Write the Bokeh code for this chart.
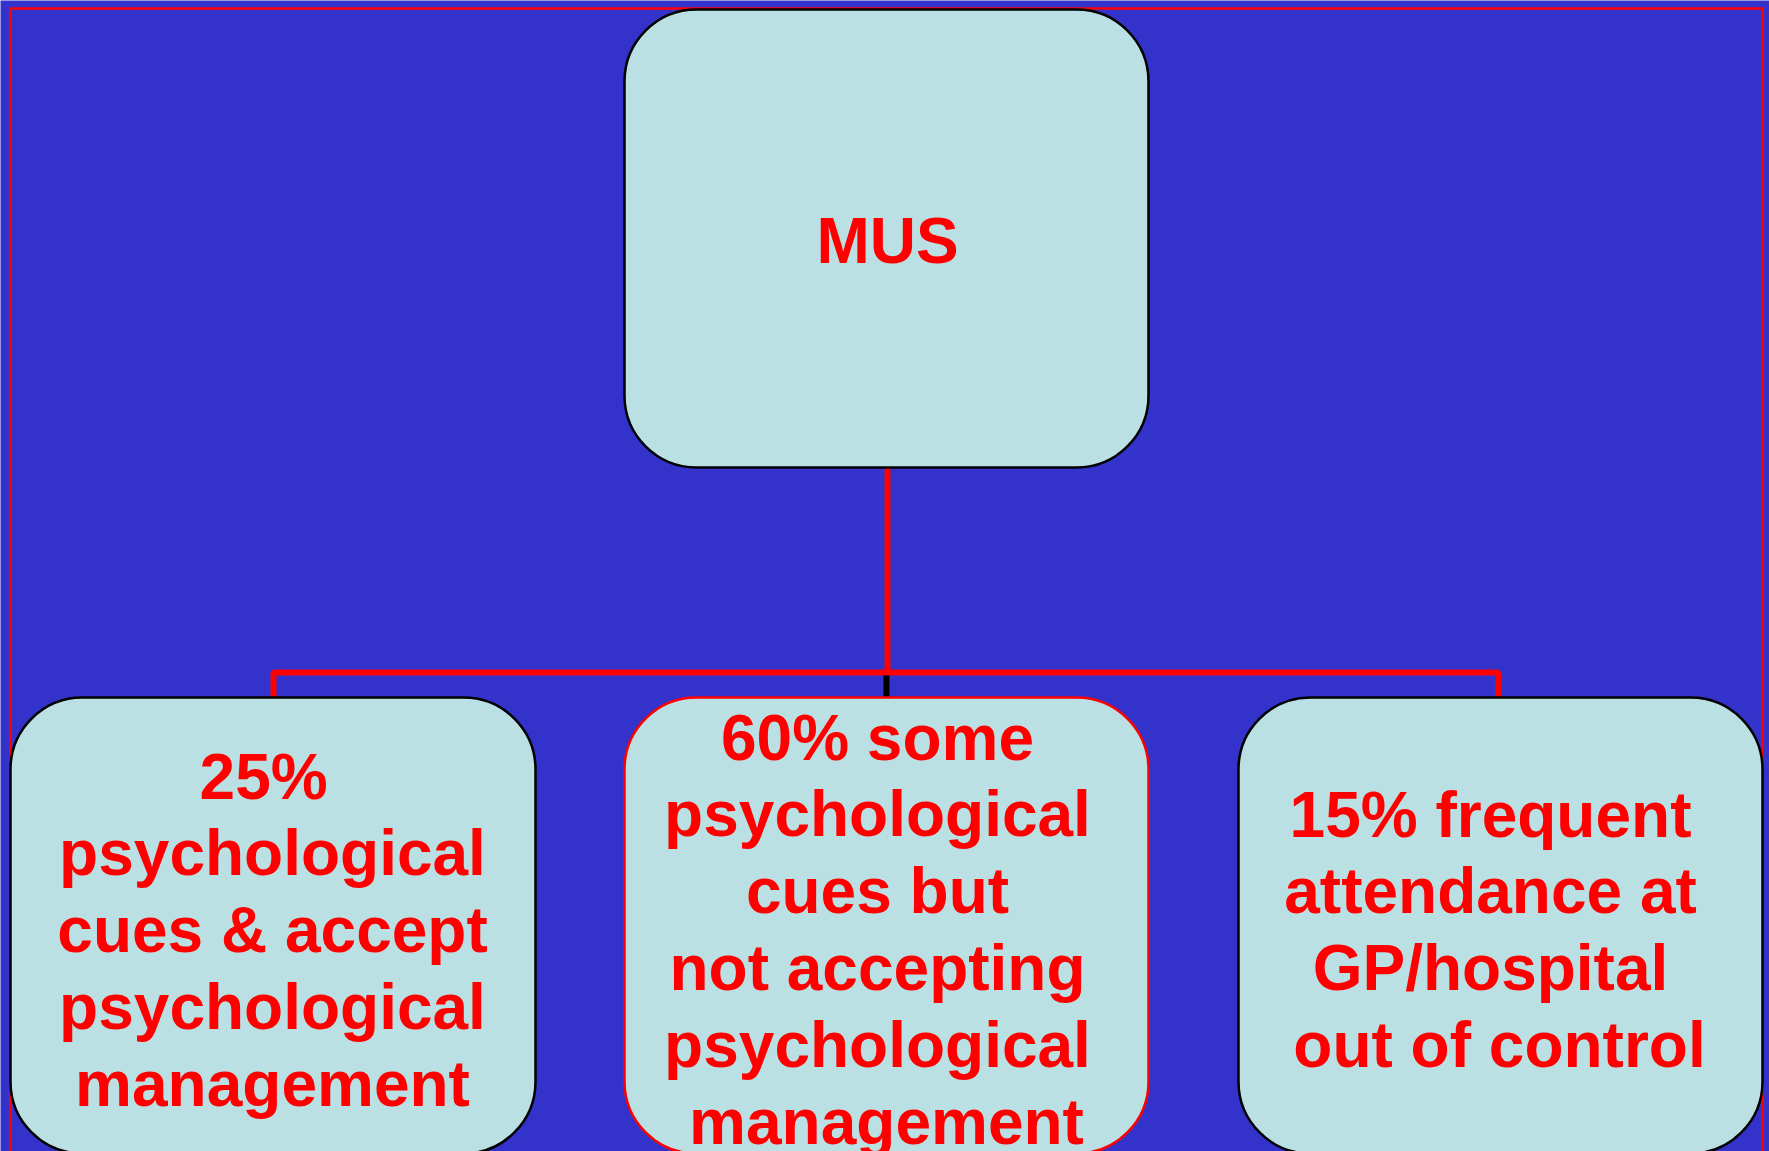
from bokeh.plotting import figure
from bokeh.models import Range1d, ColumnDataSource
from bokeh.core.properties import value
from bokeh.embed import file_html
from bokeh.resources import INLINE

# ---- content ----
root_label = "MUS"
branch_labels = [
    ["25% ", "psychological", "cues & accept", "psychological", "management"],
    ["60% some", "psychological", "cues but", "not accepting", "psychological", "management"],
    ["15% frequent", "attendance at", "GP/hospital", "out of control"],
]

# ---- layout (reference pixel space) ----
root_box = (624, 1148, 9, 467)            # left, right, top, bottom
branch_boxes = [(10, 535, 697, 1153), (624, 1148, 697, 1153), (1238, 1762, 697, 1153)]
branch_edge = ["black", "red", "black"]
branch_text_x = [272, 877, 1490]
branch_line_nudge = [[0, 0, 0, 0, 0], [0, 0, 0, 0, 0, 9], [0, 0, 0, 9]]
baseline_fix = -22
branch_first_baseline = [798, 759, 836]
line_step = 76.8
root_text = (887, 262)

BG = "#3333CC"
BOX = "#BBE0E3"
RED = "#FF0000"

p = figure(width=1769, height=1151, output_backend="svg", toolbar_location=None,
           x_range=Range1d(0, 1769), y_range=Range1d(1151, 0), min_border=0)
p.axis.visible = False
p.grid.visible = False
p.outline_line_color = None
p.background_fill_color = BG
p.border_fill_color = BG

# outer red frame
p.line([10, 10, 1762, 1762], [1200, 8, 8, 1200], line_color=RED, line_width=2.5)

# connectors
p.line([887, 887], [467, 672], line_color=RED, line_width=6)
p.line([273, 273, 1498, 1498], [697, 672, 672, 697], line_color=RED, line_width=6)
p.line([886, 886], [675, 697], line_color="black", line_width=6)

# boxes
p.quad(left=[root_box[0]], right=[root_box[1]], top=[root_box[2]], bottom=[root_box[3]],
       fill_color=BOX, line_color="black", line_width=2.5, border_radius=72)
bsrc = ColumnDataSource(dict(
    left=[b[0] for b in branch_boxes], right=[b[1] for b in branch_boxes],
    top=[b[2] for b in branch_boxes], bottom=[b[3] for b in branch_boxes],
    edge=branch_edge))
p.quad(left="left", right="right", top="top", bottom="bottom", source=bsrc,
       fill_color=BOX, line_color="edge", line_width=2.5, border_radius=72)

# texts
tx, ty, tt = [root_text[0]], [root_text[1] + baseline_fix], [root_label]
for lines, nudges, x0, y0 in zip(branch_labels, branch_line_nudge, branch_text_x, branch_first_baseline):
    for i, (s, dx) in enumerate(zip(lines, nudges)):
        tx.append(x0 + dx)
        ty.append(y0 + i * line_step + baseline_fix)
        tt.append(s)
p.text(x=tx, y=ty, text=tt, text_color=RED, text_font=value("Liberation Sans"),
       text_font_style="bold", text_font_size="64px", text_align="center",
       text_baseline="alphabetic")

open("out.html", "w").write(file_html(p, INLINE))
